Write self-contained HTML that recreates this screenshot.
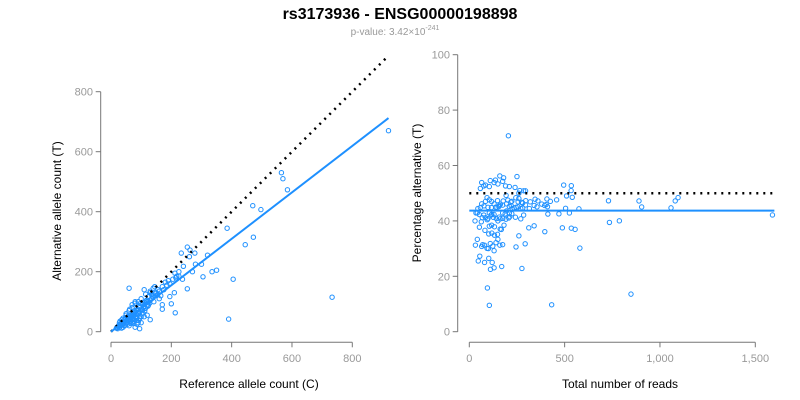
<!DOCTYPE html>
<html><head><meta charset="utf-8"><style>
html,body{margin:0;padding:0;background:#fff;}
svg{display:block;font-family:"Liberation Sans",Arial,sans-serif;}
</style></head><body>
<svg id="chart" width="800" height="400" viewBox="0 0 800 400" xmlns="http://www.w3.org/2000/svg">
<text x="400" y="19" text-anchor="middle" font-size="16" font-weight="bold" fill="#000">rs3173936 - ENSG00000198898</text>
<text x="395" y="35" text-anchor="middle" font-size="10" fill="#999">p-value: 3.42×10<tspan dy="-5" font-size="7">-241</tspan></text>
<g id="left"></g>
<g id="right"></g>
<text x="249" y="388" text-anchor="middle" font-size="12" fill="#000">Reference allele count (C)</text>
<text transform="translate(61,211) rotate(-90)" text-anchor="middle" font-size="12" fill="#000">Alternative allele count (T)</text>
<text x="620" y="388" text-anchor="middle" font-size="12" fill="#000">Total number of reads</text>
<text transform="translate(421,193) rotate(-90)" text-anchor="middle" font-size="12" fill="#000">Percentage alternative (T)</text>
</svg>
<script>
const refCounts = [920,733,390,405,565,570,585,470,497,385,445,472,253,262,233,278,260,240,280,300,270,253,335,350,305,320,213,200,195,210,212,218,225,237,60,110,130,95,80,170,170,180,175,145,150,160,130,120,
20,25,30,35,40,45,50,55,60,65,70,75,80,85,90,95,100,105,110,115,120,125,130,135,140,22,28,33,38,42,48,52,58,62,68,72,78,82,88,92,98,102,108,112,118,122,128,135,142,150,155,160,165,170,185,190,195,205,215,225,30,40,50,60,70,80,90,45,55,65,75,85,95,100,40,60,70,90,110,120,35,48,56,66,74,84,96,104,114,124,18,24,32,44,54,64,76,86,94,106,116,126,136,146,156,66,76,86,96,106,50,62,100,115,140,130,28,36,70,80,86,100,92,75];
const altCounts = [670,115,42,175,530,510,473,420,407,345,290,315,282,272,262,262,250,218,225,225,200,143,200,205,183,255,63,93,117,130,195,185,200,175,145,140,40,10,15,75,90,165,140,150,130,110,135,100,
15,20,22,30,28,40,35,50,45,40,60,55,65,70,60,80,75,90,85,95,90,100,105,110,115,10,14,20,25,35,45,30,40,55,50,45,70,50,75,65,95,60,80,70,105,85,95,125,100,120,125,135,120,150,155,170,160,175,180,185,35,45,55,70,80,95,100,20,25,28,35,38,45,50,15,20,30,30,50,55,12,22,38,48,52,58,66,72,78,88,12,18,26,32,44,52,62,72,84,96,102,118,120,128,140,36,42,46,52,62,60,75,110,125,145,130,30,40,90,100,25,30,38,27];
const leftTicks = [0,200,400,600,800];
const rightXTicks = [0,500,1000,1500];
const rightXLabels = ["0","500","1,000","1,500"];
const rightYTicks = [0,20,40,60,80,100];
const fitSlope = 0.774;
const fitPct = 43.7;
const refLineMax = 920;
const totalMax = 1600;

const NS = "http://www.w3.org/2000/svg";
function mk(parent, tag, attrs){const e=document.createElementNS(NS,tag);for(const k in attrs)e.setAttribute(k,attrs[k]);parent.appendChild(e);return e;}
// left scales
const lx = v => 111 + v*(352.3-111)/800;
const ly = v => 331.7 - v*(331.7-91.7)/800;
// right scales
const rx = v => 469.3 + v*(755.3-469.3)/1500;
const ry = v => 331.7 - v*(331.7-54.7)/100;
const AX="#777";
const L=document.getElementById('left'), R=document.getElementById('right');

// left axes
let a=mk(L,'line',{x1:100.7,y1:ly(0),x2:100.7,y2:ly(800),stroke:AX});


a=mk(L,'line',{x1:lx(0),y1:342.3,x2:lx(800),y2:342.3,stroke:AX});


leftTicks.forEach(t=>{
  mk(L,'line',{x1:95.7,y1:ly(t),x2:100.7,y2:ly(t),stroke:AX});
  let tx=mk(L,'text',{x:93,y:ly(t)+4,'text-anchor':'end','font-size':11,fill:'#999'});tx.textContent=t;
  
  
  mk(L,'line',{x1:lx(t),y1:342.3,x2:lx(t),y2:347.3,stroke:AX});
  let tx2=mk(L,'text',{x:lx(t),y:362,'text-anchor':'middle','font-size':11,fill:'#999'});tx2.textContent=t;
  
  
});
// right axes
a=mk(R,'line',{x1:457.7,y1:ry(0),x2:457.7,y2:ry(100),stroke:AX});


a=mk(R,'line',{x1:rx(0),y1:342.3,x2:rx(1500),y2:342.3,stroke:AX});


rightYTicks.forEach(t=>{
  mk(R,'line',{x1:452.7,y1:ry(t),x2:457.7,y2:ry(t),stroke:AX});
  let tx=mk(R,'text',{x:450,y:ry(t)+4,'text-anchor':'end','font-size':11,fill:'#999'});tx.textContent=t;
  
  
});
rightXTicks.forEach((t,i)=>{
  mk(R,'line',{x1:rx(t),y1:342.3,x2:rx(t),y2:347.3,stroke:AX});
  let tx=mk(R,'text',{x:rx(t),y:362,'text-anchor':'middle','font-size':11,fill:'#999'});tx.textContent=rightXLabels[i];
  
  
});
// points
refCounts.forEach((r,i)=>{
  const al=altCounts[i], tot=r+al, pct=al/tot*100;
  let c=mk(L,'circle',{cx:lx(r),cy:ly(al),r:2.2,fill:'none',stroke:'#1e90ff','stroke-width':1});
  
  
  let c2=mk(R,'circle',{cx:rx(tot),cy:ry(pct),r:2.2,fill:'none',stroke:'#1e90ff','stroke-width':1});
  
  
});
// lines
let ln=mk(L,'line',{x1:lx(0),y1:ly(0),x2:lx(refLineMax),y2:ly(refLineMax),stroke:'#000','stroke-width':2.5,'stroke-dasharray':'2,5'});


ln=mk(L,'line',{x1:lx(0),y1:ly(0),x2:lx(refLineMax),y2:ly(refLineMax*fitSlope),stroke:'#1e90ff','stroke-width':2});


ln=mk(R,'line',{x1:rx(0),y1:ry(50),x2:rx(totalMax),y2:ry(50),stroke:'#000','stroke-width':2.5,'stroke-dasharray':'2,5'});


ln=mk(R,'line',{x1:rx(0),y1:ry(fitPct),x2:rx(totalMax),y2:ry(fitPct),stroke:'#1e90ff','stroke-width':2});


</script>
</body></html>
